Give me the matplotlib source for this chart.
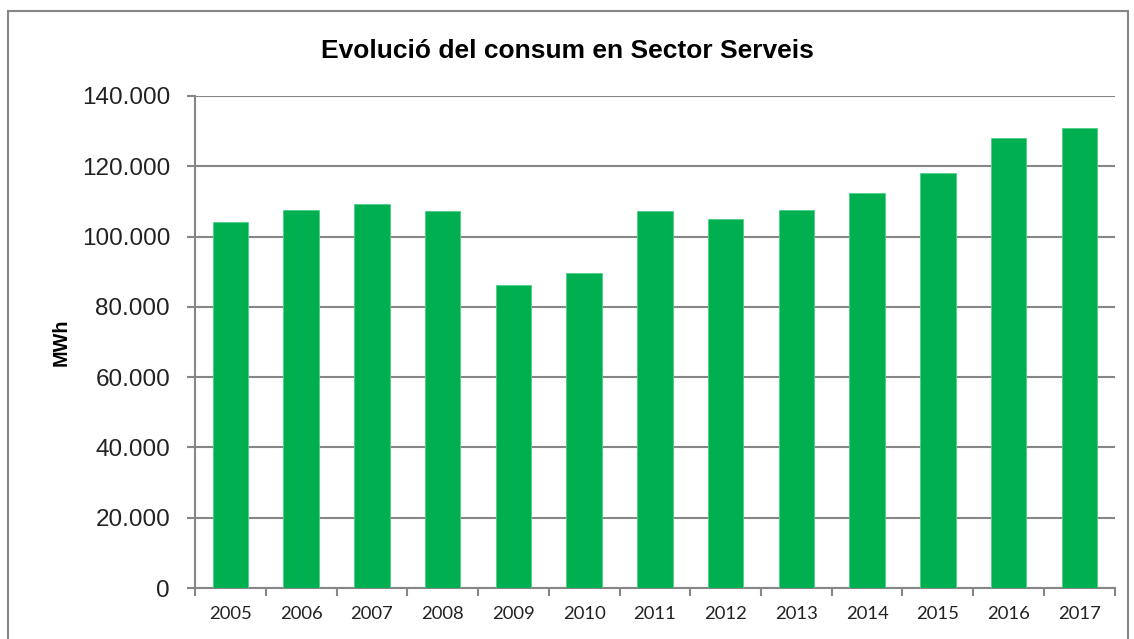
import numpy as np
import matplotlib.pyplot as plt
from matplotlib.patches import Rectangle
from matplotlib.ticker import FuncFormatter

years = ['2005', '2006', '2007', '2008', '2009', '2010', '2011',
         '2012', '2013', '2014', '2015', '2016', '2017']
consum = [104200, 107600, 109300, 107300, 86200, 89600, 107300,
          105000, 107600, 112400, 118100, 128100, 130900]

fig = plt.figure(figsize=(11.34, 6.39), dpi=100)
ax = fig.add_axes([0.172, 0.0798, 0.811, 0.77])

# chart frame
fig.patches.append(Rectangle((8 / 1134, -0.05), 1120 / 1134, 1.05 - 11 / 639,
                             transform=fig.transFigure, fill=False,
                             edgecolor='#868686', linewidth=1.5))

x = np.arange(len(years))
ax.bar(x, consum, width=0.5, color='#00B050', edgecolor='#4fd088',
       linewidth=0.6, zorder=3)

ax.set_xlim(-0.5, len(years) - 0.5)
ax.set_ylim(0, 140000)
ax.set_yticks(np.arange(0, 140001, 20000))
ax.yaxis.set_major_formatter(FuncFormatter(lambda v, p: f'{int(v):,}'.replace(',', '.')))
ax.grid(axis='y', color='#868686', linewidth=1.5, zorder=0)

ax.set_xticks(np.arange(-0.5, len(years), 1))
ax.set_xticklabels([])
ax.set_xticks(x, minor=True)
ax.set_xticklabels(years, minor=True, fontsize=13.3, family='Lato', color='#222222')
ax.tick_params(axis='x', which='minor', length=0, pad=13)
ax.tick_params(axis='x', which='major', length=6, width=1.5, color='#868686')
ax.tick_params(axis='y', length=6, width=1.5, color='#868686', labelsize=17.5,
               labelcolor='#222222', pad=12)
for lab in ax.get_yticklabels():
    lab.set_family('Liberation Sans')

for s in ['top', 'right']:
    ax.spines[s].set_visible(False)
for s in ['left', 'bottom']:
    ax.spines[s].set_color('#868686')
    ax.spines[s].set_linewidth(1.5)

ax.set_ylabel('MWh', fontsize=14.3, fontweight='bold', family='Liberation Sans', labelpad=8)
fig.text(0.5, 0.92, 'Evolució del consum en Sector Serveis', ha='center', va='center',
         fontsize=19, fontweight='bold', family='Liberation Sans')

fig.savefig('out.png', dpi=100)
